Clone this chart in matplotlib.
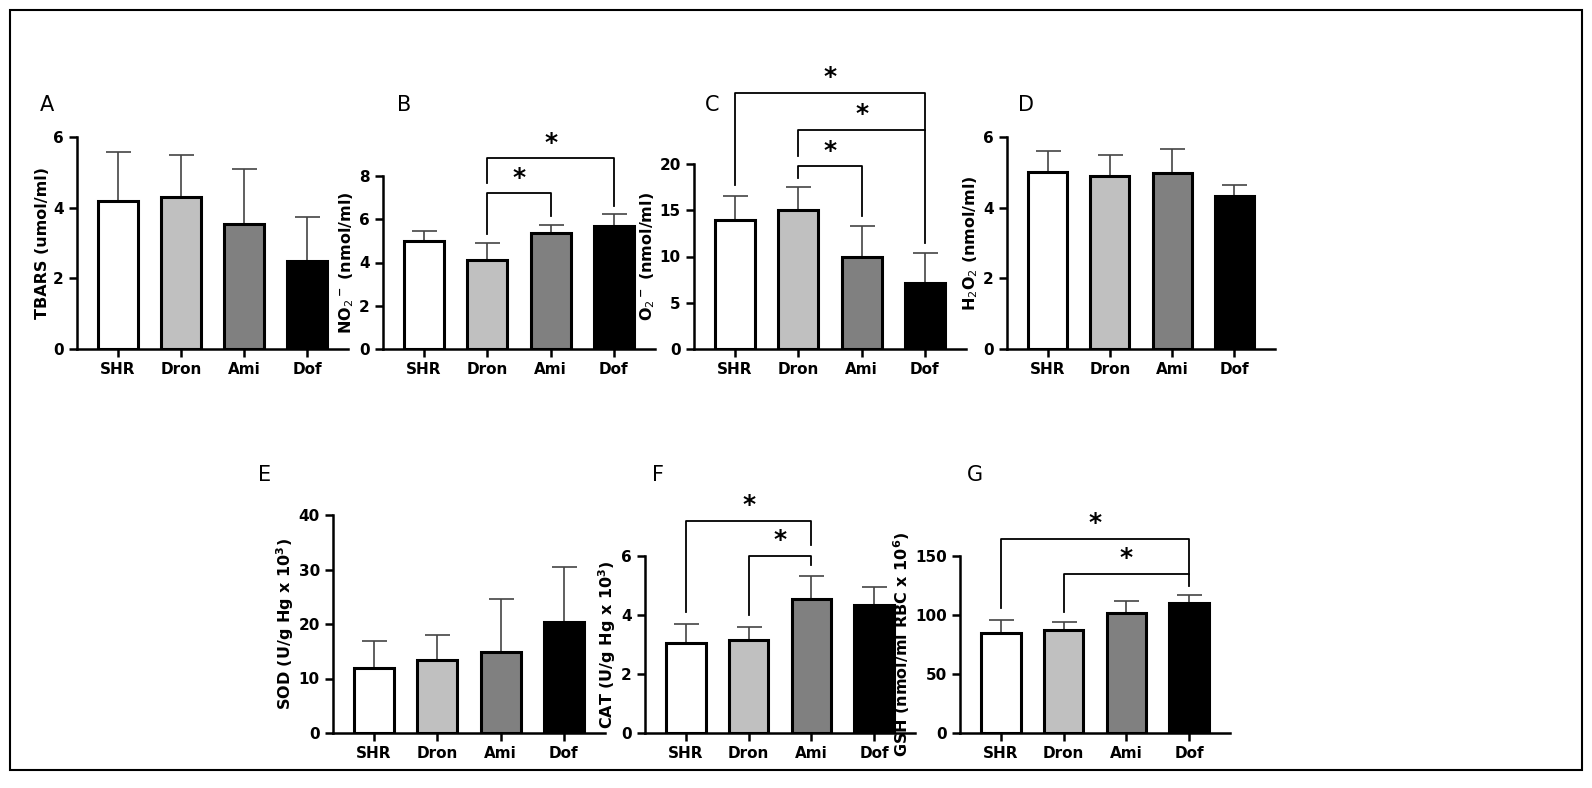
import matplotlib.pyplot as plt
from matplotlib.patches import Rectangle

groups = ["SHR", "Dron", "Ami", "Dof"]
colors = ["white", "#c0c0c0", "#808080", "black"]

# panel data: means and upper error (SD) lengths
tbars = [4.2, 4.3, 3.55, 2.5]
tbars_err = [1.38, 1.18, 1.55, 1.23]
no2 = [5.0, 4.1, 5.35, 5.7]
no2_err = [0.45, 0.8, 0.4, 0.55]
o2 = [14.0, 15.0, 10.0, 7.1]
o2_err = [2.5, 2.5, 3.3, 3.3]
h2o2 = [5.0, 4.9, 4.97, 4.32]
h2o2_err = [0.6, 0.58, 0.68, 0.33]
sod = [12.0, 13.4, 14.8, 20.3]
sod_err = [4.8, 4.5, 9.7, 10.1]
cat = [3.05, 3.15, 4.55, 4.35]
cat_err = [0.65, 0.45, 0.77, 0.6]
gsh = [85, 87, 102, 110]
gsh_err = [11, 7, 10, 7]

W, H = 1592, 788
fig = plt.figure(figsize=(W / 100, H / 100), dpi=100)
fig.patches.append(Rectangle((10 / W, 18 / H), 1572 / W, 760 / H, transform=fig.transFigure,
                             fill=False, lw=1.5, ec="black"))


def make_axes(left, right, top, bottom):
    return fig.add_axes([left / W, 1 - bottom / H, (right - left) / W, (bottom - top) / H])


# (pixel box, data, err, ymax, tick step, ylabel, letter, letter pos, brackets)
# bracket: (i, j, y, leg_i_end, leg_j_end)
panels = [
    ((77, 348, 137, 349), tbars, tbars_err, 6, 2, "TBARS (umol/ml)", "A", (40, 105), []),
    ((383, 655, 176, 349), no2, no2_err, 8, 2, r"NO$_2$$^{\bf -}$ (nmol/ml)", "B", (397, 105),
     [(1, 2, 7.2, 5.34, 6.17), (1, 3, 8.82, 7.66, 6.6)]),
    ((694, 966, 164, 349), o2, o2_err, 20, 5, r"O$_2$$^{\bf -}$ (nmol/ml)", "C", (705, 105),
     [(1, 2, 19.75, 18.5, 14.4), (1, 3, 23.7, 20.9, 11.5), (0, 3, 27.7, 17.7, 23.7)]),
    ((1007, 1275, 137, 349), h2o2, h2o2_err, 6, 2, r"H$_2$O$_2$ (nmol/ml)", "D", (1018, 105), []),
    ((333, 605, 515, 733), sod, sod_err, 40, 10, r"SOD (U/g Hg x 10$^{\bf 3}$)", "E", (258, 475), []),
    ((645, 915, 556, 733), cat, cat_err, 6, 2, r"CAT (U/g Hg x 10$^{\bf 3}$)", "F", (652, 475),
     [(1, 2, 6.0, 4.0, 5.69), (0, 2, 7.2, 4.09, 6.36)]),
    ((960, 1230, 556, 733), gsh, gsh_err, 150, 50, r"GSH (nmol/ml RBC x 10$^{\bf 6}$)", "G", (967, 475),
     [(1, 3, 134.8, 102.3, 125), (0, 3, 164.8, 105.7, 134.8)]),
]

for box, vals, errs, ymax, step, ylabel, letter, lpos, brackets in panels:
    ax = make_axes(*box)
    x = range(len(groups))
    ax.errorbar(x, vals, yerr=[[0] * 4, errs], fmt="none", ecolor="#444444", elinewidth=1.2,
                capsize=9, capthick=1.2, zorder=1)
    ax.bar(x, vals, width=0.63, color=colors, edgecolor="black", linewidth=2.2, zorder=2)
    ax.set_xlim(-0.65, 3.65)
    ax.set_ylim(0, ymax)
    ax.set_yticks(range(0, ymax + 1, step))
    ax.set_xticks(list(x))
    ax.set_xticklabels(groups, fontweight="bold", fontsize=11)
    for t in ax.get_yticklabels():
        t.set_fontweight("bold")
        t.set_fontsize(11)
    ax.spines[["top", "right"]].set_visible(False)
    ax.spines[["left", "bottom"]].set_linewidth(1.8)
    ax.tick_params(width=1.8, length=6)
    ax.set_ylabel(ylabel, fontweight="bold", fontsize=11.5, labelpad=2)
    fig.text(lpos[0] / W, 1 - lpos[1] / H, letter, fontsize=15, va="center")
    for i, j, y, yi, yj in brackets:
        ax.plot([i, i, j, j], [yi, y, y, yj], color="black", lw=1.3, clip_on=False)
        ax.text((i + j) / 2, y + ymax * 0.02, "*", ha="center", va="bottom", fontsize=18,
                fontweight="bold", clip_on=False)

fig.savefig("out.png", dpi=100)
